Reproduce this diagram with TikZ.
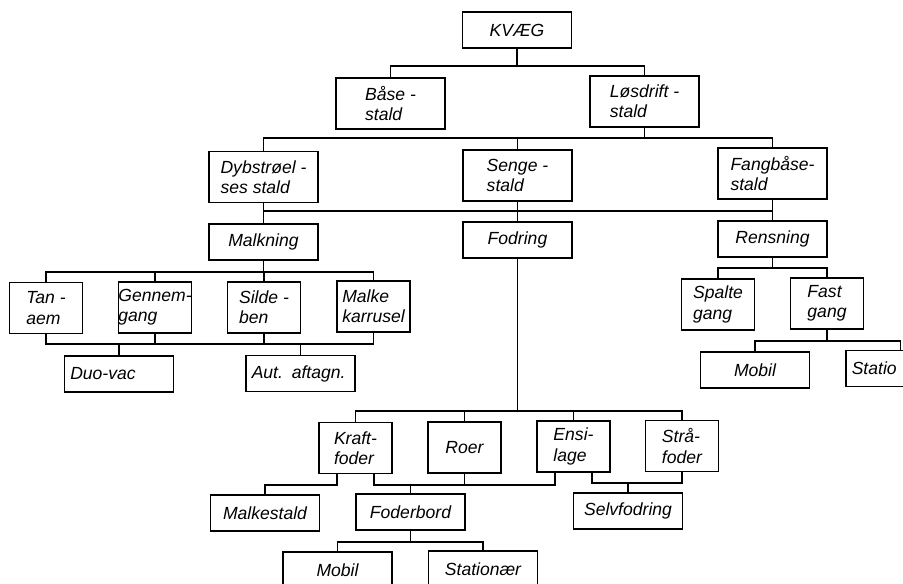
\documentclass[tikz,border=0pt]{standalone}
\usepackage{fontspec}
\setmainfont{Liberation Sans}
\usepackage{tikz}
\usetikzlibrary{calc}

\begin{document}
\begin{tikzpicture}[x=0.02cm,y=-0.02cm,line width=0.7pt,
        box/.style={draw,inner sep=0pt,minimum width=2.18cm,minimum height=0.72cm,
            align=left,font=\fontsize{10}{11.5}\selectfont\itshape},
        lbox/.style={box,text width=1.95cm},
        tall/.style={box,minimum height=1.02cm},
        slim/.style={tall,minimum width=1.46cm}]
        \useasboundingbox (0,0) rectangle (903,584);

        \node[box]  (kvaeg)  at (517,30)      {KVÆG};
        \node[tall] (baase)  at (390.5,103.5) {Båse -\\stald};
        \node[tall] (loes)   at (644.5,101.5) {Løsdrift -\\stald};
        \node[tall] (dyb)    at (263.5,177)   {Dybstrøel -\\ses stald};
        \node[tall] (senge)  at (517.5,175.5) {Senge -\\stald};
        \node[tall] (fang)   at (772.5,173.5) {Fangbåse-\\stald};
        \node[box]  (malk)   at (263.5,242)   {Malkning};
        \node[box]  (fodr)   at (517.5,240)   {Fodring};
        \node[box]  (rens)   at (772.5,239)   {Rensning};
        \node[slim] (tan)    at (46,308)      {Tan -\\aem};
        \node[slim] (genn)   at (155,307.5)   {Gennem-\\gang};
        \node[slim] (silde)  at (264,307.5)   {Silde -\\ben};
        \node[slim] (karr)   at (373.5,306.5) {Malke\\karrusel};
        \node[lbox] (duo)    at (119,374)     {Duo-vac};
        \node[lbox] (aut)    at (300.5,373.5) {Aut. aftagn.};
        \node[slim] (spalte) at (718,304.5)   {Spalte\\gang};
        \node[slim] (fast)   at (827,303.5)   {Fast\\gang};
        \node[box]  (mobilr) at (755,370)     {Mobil};
        \node[slim] (kraft)  at (355.5,448)   {Kraft-\\foder};
        \node[slim] (roer)   at (464.5,447.5) {Roer};
        \node[slim] (ensi)   at (573.5,446.5) {Ensi-\\lage};
        \node[slim] (straa)  at (682,446)     {Strå-\\foder};
        \node[box]  (mstald) at (265,513)     {Malkestald};
        \node[box]  (foder)  at (410.5,512)   {Foderbord};
        \node[box]  (selv)   at (628,511)     {Selvfodring};
        \begin{scope}
            \clip (0,0) rectangle (903,584);
            \node[lbox] (statio) at (900.5,368.5) {Statio};
            \node[box]  (mobil)  at (337.5,570)   {Mobil};
            \node[box]  (stat)   at (483,569)     {Stationær};
        \end{scope}

        \coordinate (b1) at (0,66);
        \coordinate (b2) at (0,138);
        \coordinate (b3) at (0,211);
        \coordinate (b4) at (0,272);
        \coordinate (b5) at (0,344);
        \coordinate (b6) at (0,268);
        \coordinate (b7) at (0,341);
        \coordinate (b8) at (0,411);
        \coordinate (b9) at (0,485);
        \coordinate (b10) at (0,483);
        \coordinate (b11) at (0,542);
        \coordinate (kr1) at ($(kraft.south west)!0.25!(kraft.south east)$);
        \coordinate (kr2) at ($(kraft.south west)!0.75!(kraft.south east)$);
        \coordinate (en1) at ($(ensi.south west)!0.25!(ensi.south east)$);
        \coordinate (en2) at ($(ensi.south west)!0.75!(ensi.south east)$);

        \draw (kvaeg.south) -- (kvaeg.south |- b1);
        \draw (baase.north) |- (loes.north |- b1) -- (loes.north);
        \draw (loes.south) -- (loes.south |- b2);
        \draw (dyb.north) |- (fang.north |- b2) -- (fang.north);
        \draw (senge.north) -- (senge.north |- b2);

        \draw (dyb.south) -- (malk.north);
        \draw (senge.south) -- (fodr.north);
        \draw (fang.south) -- (rens.north);
        \draw (dyb.south |- b3) -- (fang.south |- b3);

        \draw (malk.south) -- (malk.south |- b4);
        \draw (tan.north) |- (karr.north |- b4) -- (karr.north);
        \foreach \n in {genn,silde}
        \draw (\n.north) -- (\n.north |- b4);
        \draw (tan.south) |- (karr.south |- b5) -- (karr.south);
        \foreach \n in {genn,silde}
        \draw (\n.south) -- (\n.south |- b5);
        \foreach \n in {duo,aut}
        \draw (\n.north) -- (\n.north |- b5);

        \draw (rens.south) -- (rens.south |- b6);
        \draw (spalte.north) |- (fast.north |- b6) -- (fast.north);
        \draw (fast.south) -- (fast.south |- b7);
        \draw (mobilr.north) |- (statio.north |- b7) -- (statio.north);

        \draw (fodr.south) -- (fodr.south |- b8);
        \draw (kraft.north) |- (straa.north |- b8) -- (straa.north);
        \foreach \n in {roer,ensi}
        \draw (\n.north) -- (\n.north |- b8);
        \draw (kr1) |- (mstald.north |- b9) -- (mstald.north);
        \draw (kr2) |- (en1 |- b9) -- (en1);
        \draw (roer.south) -- (roer.south |- b9);
        \draw (foder.north) -- (foder.north |- b9);
        \draw (en2) |- (straa.south |- b10) -- (straa.south);
        \draw (selv.north) -- (selv.north |- b10);
        \draw (foder.south) -- (foder.south |- b11);
        \draw (mobil.north) |- (stat.north |- b11) -- (stat.north);
    \end{tikzpicture}
\end{document}
